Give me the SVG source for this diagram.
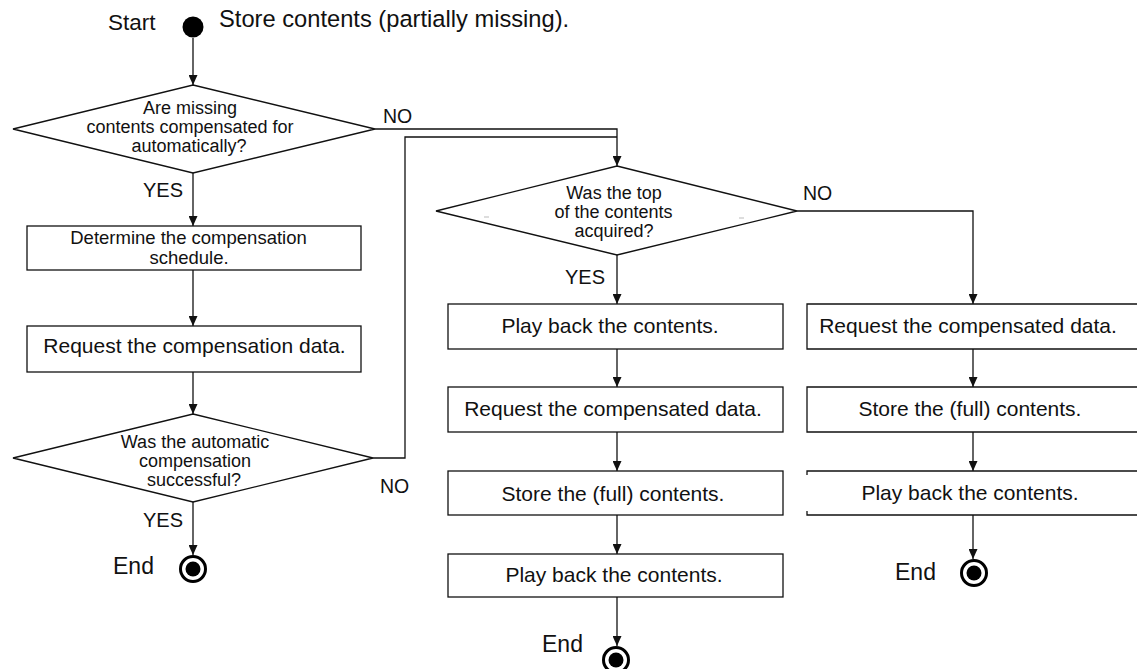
<svg xmlns="http://www.w3.org/2000/svg" width="1137" height="669" viewBox="0 0 1137 669">
  <style>
    .shape { fill: #fff; stroke: #111; stroke-width: 1.3; }
    .edge { fill: none; stroke: #111; stroke-width: 1.3; }
    .txt { font-family: "Liberation Sans", Arial, sans-serif; fill: #111; }
    .box { font-size: 21px; text-anchor: middle; }
    .q { font-size: 18px; text-anchor: middle; }
    .lbl { font-size: 19.5px; }
    .big { font-size: 23px; }
    .ring { fill: #fff; stroke: #000; stroke-width: 3; }
    .dot { fill: #000; }
  </style>
  <defs>
    <marker id="arrow" markerUnits="userSpaceOnUse" markerWidth="10" markerHeight="9" refX="10" refY="4.5" orient="auto">
      <path d="M0,0 L10,4.5 L0,9 z" fill="#111"/>
    </marker>
  </defs>

  <rect width="1137" height="669" fill="#fff"/>

  <!-- connectors -->
  <g id="connectors">
    <path class="edge" d="M193,38 V85" marker-end="url(#arrow)"/>
    <path class="edge" d="M193,173 V226" marker-end="url(#arrow)"/>
    <path class="edge" d="M193,270 V326" marker-end="url(#arrow)"/>
    <path class="edge" d="M193,372 V414" marker-end="url(#arrow)"/>
    <path class="edge" d="M193,502 V555" marker-end="url(#arrow)"/>
    <path class="edge" d="M375,129 H617 V166" marker-end="url(#arrow)"/>
    <path class="edge" d="M373,458 H405 V137 H617"/>
    <path class="edge" d="M617,255 V304" marker-end="url(#arrow)"/>
    <path class="edge" d="M617,349 V387" marker-end="url(#arrow)"/>
    <path class="edge" d="M617,432 V471" marker-end="url(#arrow)"/>
    <path class="edge" d="M617,515 V554" marker-end="url(#arrow)"/>
    <path class="edge" d="M617,597 V646" marker-end="url(#arrow)"/>
    <path class="edge" d="M797,211 H973 V304" marker-end="url(#arrow)"/>
    <path class="edge" d="M973,349 V387" marker-end="url(#arrow)"/>
    <path class="edge" d="M973,432 V471" marker-end="url(#arrow)"/>
    <path class="edge" d="M973,515 V559" marker-end="url(#arrow)"/>
  </g>

  <!-- edge labels -->
  <g id="labels" class="txt lbl">
    <text x="383" y="123">NO</text>
    <text x="143" y="196.5" font-size="20">YES</text>
    <text x="380" y="492.5">NO</text>
    <text x="143" y="526.5" font-size="20">YES</text>
    <text x="803" y="200">NO</text>
    <text x="565" y="284" font-size="20">YES</text>
  </g>

  <!-- start -->
  <g id="start">
    <circle cx="193" cy="27" r="10.5" fill="#000"/>
    <text class="txt" x="108" y="30" font-size="22.5">Start</text>
    <text class="txt" x="219" y="27" font-size="23.7">Store contents (partially missing).</text>
  </g>

  <!-- left column -->
  <g id="q-auto">
    <polygon class="shape" points="193,85 375,129 193,173 13,129"/>
    <text class="txt q" x="190" y="114">Are missing</text>
    <text class="txt q" x="190" y="133">contents compensated for</text>
    <text class="txt q" x="189" y="152">automatically?</text>
  </g>

  <g id="determine">
    <rect class="shape" x="27" y="226" width="334" height="44"/>
    <text class="txt" font-size="18.5" text-anchor="middle" x="188.5" y="244">Determine the compensation</text>
    <text class="txt" font-size="18.5" text-anchor="middle" x="189" y="263.5">schedule.</text>
  </g>

  <g id="request-comp">
    <rect class="shape" x="27" y="326" width="334" height="46"/>
    <text class="txt box" x="194.5" y="352.5">Request the compensation data.</text>
  </g>

  <g id="q-success">
    <polygon class="shape" points="193,414 373,458 193,502 13,458"/>
    <text class="txt q" x="195" y="447.5">Was the automatic</text>
    <text class="txt q" x="195" y="466.5">compensation</text>
    <text class="txt q" x="194" y="485.5">successful?</text>
  </g>

  <g id="end-left">
    <circle class="ring" cx="193" cy="569" r="12.5"/>
    <circle class="dot" cx="193" cy="569" r="7.5"/>
    <text class="txt big" x="113" y="574">End</text>
  </g>

  <!-- middle column -->
  <g id="q-top">
    <polygon class="shape" points="617,166 797,211 617,255 436,211"/>
    <path d="M484,217 h5 M739,218 h5" stroke="#bbb" stroke-width="1"/>
    <text class="txt q" x="614" y="198.5">Was the top</text>
    <text class="txt q" x="613.5" y="217.5">of the contents</text>
    <text class="txt q" x="614" y="236.5">acquired?</text>
  </g>

  <g id="play-1">
    <rect class="shape" x="448" y="304" width="335" height="45"/>
    <text class="txt box" x="610" y="333">Play back the contents.</text>
  </g>

  <g id="request-1">
    <rect class="shape" x="448" y="387" width="335" height="45"/>
    <text class="txt box" x="613" y="416">Request the compensated data.</text>
  </g>

  <g id="store-1">
    <rect class="shape" x="448" y="471" width="335" height="44"/>
    <text class="txt box" x="613" y="500.5">Store the (full) contents.</text>
  </g>

  <g id="play-2">
    <rect class="shape" x="448" y="554" width="335" height="43"/>
    <text class="txt box" x="614" y="582">Play back the contents.</text>
  </g>

  <g id="end-middle">
    <circle class="ring" cx="616" cy="660" r="12.5"/>
    <circle class="dot" cx="616" cy="660" r="7.5"/>
    <text class="txt big" x="542" y="652">End</text>
  </g>

  <!-- right column (boxes run past the right border) -->
  <g id="request-2">
    <path class="shape" d="M1140,304 H807 V349 H1140"/>
    <text class="txt box" x="968" y="333">Request the compensated data.</text>
  </g>

  <g id="store-2">
    <path class="shape" d="M1140,387 H807 V432 H1140"/>
    <text class="txt box" x="970" y="416">Store the (full) contents.</text>
  </g>

  <g id="play-3">
    <rect x="807" y="471" width="335" height="44" fill="#fff"/>
    <path class="edge" d="M1140,471 H807 V475 M807,511 V515 H1140"/>
    <text class="txt box" x="970" y="500">Play back the contents.</text>
  </g>

  <g id="end-right">
    <circle class="ring" cx="974" cy="573" r="12.5"/>
    <circle class="dot" cx="974" cy="573" r="7.5"/>
    <text class="txt big" x="895" y="580">End</text>
  </g>
</svg>
